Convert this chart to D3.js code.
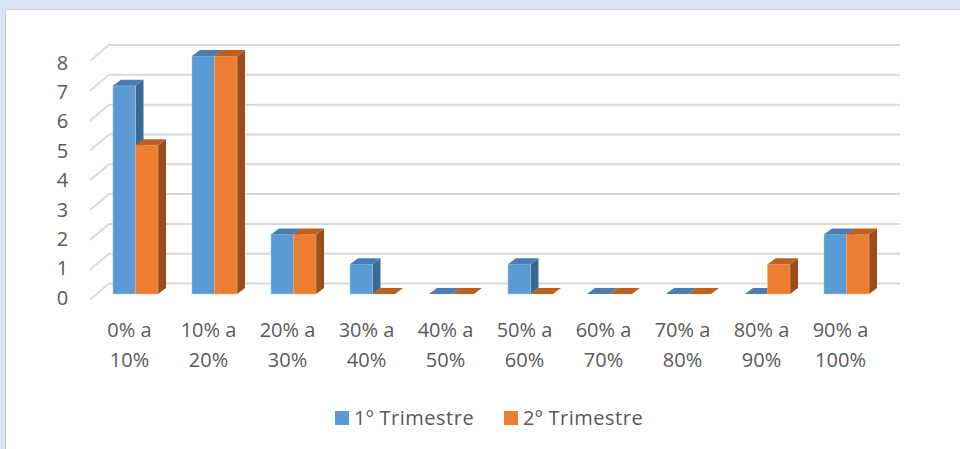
<!DOCTYPE html>
<html>
<head>
<meta charset="utf-8">
<script src="https://cdn.jsdelivr.net/npm/d3@7"></script>
<style>
html,body{margin:0;padding:0;background:#dae3f3;}
svg{display:block;}
</style>
</head>
<body>
<svg id="chart" width="960" height="449"></svg>
<script>
const categories = ["0% a 10%","10% a 20%","20% a 30%","30% a 40%","40% a 50%","50% a 60%","60% a 70%","70% a 80%","80% a 90%","90% a 100%"];
const seriesNames = ["1º Trimestre","2º Trimestre"];
const trimestre1 = [7,8,2,1,0,1,0,0,0,2];
const trimestre2 = [5,8,2,0,0,0,0,0,1,2];
const yTicks = [0,1,2,3,4,5,6,7,8];

const colors = {
  "1º Trimestre": {front:"#5b9bd5", side:"#3c6894", top:"#4a7db0", edge:"#a9c8ea"},
  "2º Trimestre": {front:"#ed7d31", side:"#9a4e1d", top:"#c0601f", edge:"#f5b58a"}
};

const svg = d3.select("#chart");
const W = 960, H = 449;

// panel
svg.append("rect").attr("x",5.5).attr("y",9.5).attr("width",W).attr("height",H)
  .attr("fill","#ffffff").attr("stroke","#d0d0d0").attr("stroke-width",1);

const x = d3.scaleBand().domain(categories).range([96, 886]).paddingInner(0.43).paddingOuter(0.215);
const xs = d3.scaleBand().domain(seriesNames).range([0, x.bandwidth()]);
const yFront = d3.scaleLinear().domain([0,8]).range([294,56]);
const yBack = d3.scaleLinear().domain([0,8]).range([283.5,45]);
const yWallFront = d3.scaleLinear().domain([0,8]).range([299.5,61]);
const yLabel = d3.scaleLinear().domain([0,8]).range([304.7,69.5]);
const dx = 8, dy = -6;
const wallFrontX = 90, wallBackX = 109, gridEndX = 900;

// gridlines (left wall diagonal + back wall)
svg.append("g").selectAll("polyline").data(yTicks).join("polyline")
  .attr("points", d => `${wallFrontX},${yWallFront(d)} ${wallBackX},${yBack(d)} ${gridEndX},${yBack(d)}`)
  .attr("fill","none").attr("stroke","#d9d9d9").attr("stroke-width",2);

// y labels
svg.append("g").selectAll("text").data(yTicks).join("text")
  .attr("x",62.5).attr("y",d=>yLabel(d)).attr("text-anchor","middle")
  .attr("font-family","'Open Sans', sans-serif").attr("font-size",20).attr("fill","#595959")
  .text(d=>d);

// bars
const data = [];
categories.forEach((c,i)=>{
  data.push({cat:c, s:seriesNames[0], v:trimestre1[i]});
  data.push({cat:c, s:seriesNames[1], v:trimestre2[i]});
});
const gBars = svg.append("g");
data.forEach(d=>{
  const x0 = x(d.cat) + xs(d.s);
  const w = xs.bandwidth();
  const yt = yFront(d.v), yb = yFront(0);
  const col = colors[d.s];
  const g = gBars.append("g");
  if (d.v > 0) {
    g.append("polygon")
      .attr("points", `${x0+w},${yt} ${x0+w+dx},${yt+dy} ${x0+w+dx},${yb+dy} ${x0+w},${yb}`)
      .attr("fill", col.side);
    g.append("rect").attr("x",x0).attr("y",yt).attr("width",w).attr("height",yb-yt)
      .attr("fill",col.front).attr("stroke",col.edge).attr("stroke-width",0.8).attr("stroke-opacity",0.6);
  }
  g.append("polygon")
    .attr("points", `${x0},${yt} ${x0+dx},${yt+dy} ${x0+w+dx},${yt+dy} ${x0+w},${yt}`)
    .attr("fill", col.top);
});

// category labels
const gCat = svg.append("g").attr("font-family","'Open Sans', sans-serif").attr("font-size",20).attr("fill","#595959");
categories.forEach(c=>{
  const parts = c.split(" a ");
  const cx = x(c) + x.bandwidth()/2 - 6;
  const t = gCat.append("text").attr("text-anchor","middle");
  t.append("tspan").attr("x",cx).attr("y",337).text(parts[0] + " a");
  t.append("tspan").attr("x",cx).attr("y",367).text(parts[1]);
});

// legend
const legendX = [335, 504];
const gLeg = svg.append("g");
seriesNames.forEach((s,i)=>{
  gLeg.append("rect").attr("x",legendX[i]).attr("y",411).attr("width",14).attr("height",14).attr("fill",colors[s].front);
  gLeg.append("text").attr("x",legendX[i]+19).attr("y",425)
    .attr("font-family","'Open Sans', sans-serif").attr("font-size",20).attr("letter-spacing",0.5)
    .attr("fill","#595959").text(s);
});
</script>
</body>
</html>
